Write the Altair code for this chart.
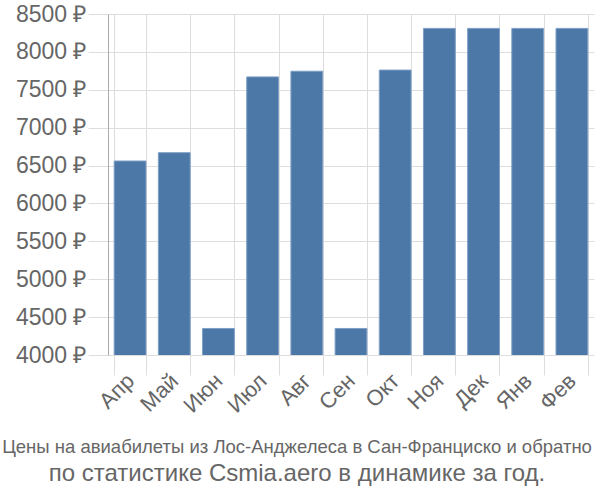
import altair as alt
import pandas as pd

months = ["Апр", "Май", "Июн", "Июл", "Авг", "Сен", "Окт", "Ноя", "Дек", "Янв", "Фев"]
prices = [6560, 6670, 4350, 7670, 7745, 4350, 7760, 8310, 8310, 8310, 8310]

df = pd.DataFrame({"month": months, "price": prices})

chart = alt.Chart(df).mark_bar(
    color="#4c78a8", stroke="#7f9fc6", strokeWidth=1, clip=True
).encode(
    x=alt.X("month:N", sort=months, title=None,
            scale=alt.Scale(paddingInner=0.28, paddingOuter=0.14),
            axis=alt.Axis(labelAngle=-45, labelFontSize=22, labelColor="#666666",
                          labelFont="Liberation Sans", tickSize=20, tickColor="#dddddd",
                          domain=False, grid=True, gridColor="#dddddd", tickBand="extent",
                          labelPadding=2, labelBaseline="middle", labelAlign="right")),
    y=alt.Y("price:Q", title=None,
            scale=alt.Scale(domain=[4000, 8500], zero=False, nice=False),
            axis=alt.Axis(values=[4000, 4500, 5000, 5500, 6000, 6500, 7000, 7500, 8000, 8500],
                          labelExpr="datum.value + ' ₽'", labelFontSize=23,
                          labelColor="#666666", labelFont="Liberation Sans",
                          tickSize=20, tickColor="#dddddd", gridColor="#dddddd",
                          domainColor="#aaaaaa", labelPadding=2)),
).properties(
    width=486, height=341,
    padding={"left": 108, "top": 14, "right": 6, "bottom": 145},
    autosize=alt.AutoSizeParams(type="none"),
    title=alt.TitleParams(
        text="Цены на авиабилеты из Лос-Анджелеса в Сан-Франциско и обратно",
        subtitle="по статистике Csmia.aero в динамике за год.",
        orient="bottom", anchor="middle", offset=22,
        font="Liberation Sans",
        fontSize=18.5, fontWeight="normal", color="#666666",
        subtitleFont="Liberation Sans", subtitleFontSize=24, subtitleColor="#666666",
        subtitlePadding=5, dx=-54,
    ),
).configure_view(stroke=None)

chart.save("out.html", embed_options={"renderer": "svg", "actions": False})
